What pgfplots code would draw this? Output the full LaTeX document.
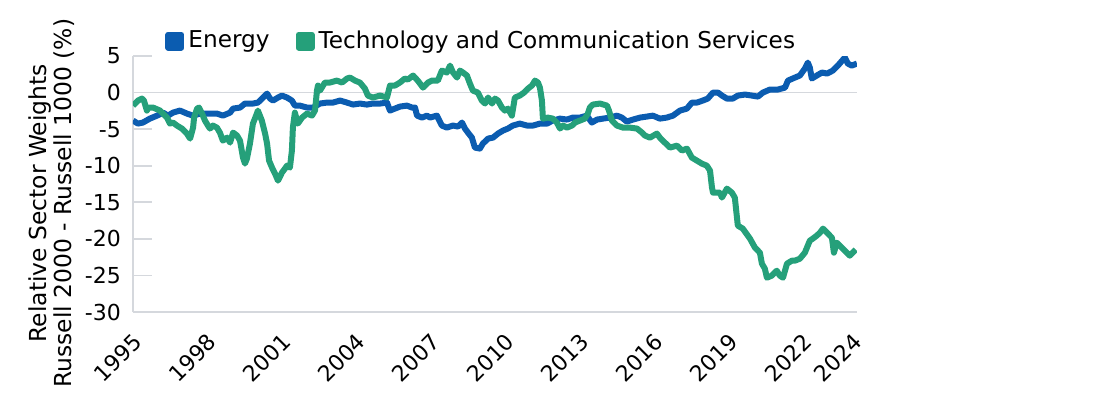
\documentclass[border=0pt]{standalone}
\usepackage{fontspec}
\setmainfont{DejaVu Sans}
\usepackage{pgfplots}
\pgfplotsset{compat=1.18}
\definecolor{eblue}{HTML}{0B5CB0}
\definecolor{tgreen}{HTML}{25A07A}
\definecolor{axgray}{HTML}{D5D8DD}
\begin{document}
\begin{tikzpicture}
\path[use as bounding box] (0,0) rectangle (550pt,196pt);
\begin{axis}[
  at={(66.5pt,40pt)}, anchor=south west,
  scale only axis, width=362pt, height=128pt,
  xmin=1995, xmax=2024.16, ymin=-30, ymax=5,
  axis lines*=left,
  axis line style={draw=axgray, line width=0.8pt},
  xtick={1995,1998,2001,2004,2007,2010,2013,2016,2019,2022,2024},
  xticklabels={1995,1998,2001,2004,2007,2010,2013,2016,2019,2022,2024},
  ytick={-30,-25,-20,-15,-10,-5,0,5},
  yticklabels={-30,-25,-20,-15,-10,-5,0,5},
  tick label style={font=\fontsize{11}{11}\selectfont},
  xtick style={draw=none},
  ytick style={draw=axgray, line width=0.8pt},
  tick align=inside, major tick length=9.5pt,
  xticklabel style={inner sep=0pt, xshift=2.5pt, yshift=-13pt, rotate=45, anchor=east},
  yticklabel style={xshift=-2.5pt},
  extra y ticks={0}, extra y tick labels={},
  extra y tick style={grid=major, major grid style={draw=axgray, line width=0.8pt}, major tick length=0pt},
  ylabel={Relative Sector Weights\\Russell 2000 - Russell 1000 (\%)},
  ylabel style={align=center, at={(axis description cs:-0.112,0.425)}, anchor=center, font=\fontsize{11.7}{11.3}\selectfont},
  legend columns=2,
  legend style={at={(axis description cs:0.0442,1.0586)}, anchor=west, draw=none, fill=none, inner sep=0pt,
    font=\fontsize{11.6}{11.6}\selectfont, /tikz/every even column/.append style={column sep=11pt}},
  legend image code/.code={\fill[#1] (0pt,-3.25pt) rectangle (6.5pt,3.25pt);},
  every axis plot/.append style={line width=3pt, line join=round, no markers},
]
\addplot[color=eblue] coordinates {
(1995.00,-3.83) (1995.20,-4.24) (1995.40,-4.10) (1995.68,-3.56) (1995.97,-3.15) (1996.21,-2.74) (1996.41,-3.15) (1996.61,-2.74) (1996.89,-2.46) (1997.17,-2.87) (1997.42,-3.15) (1997.70,-2.87) (1997.98,-2.87) (1998.38,-2.87) (1998.62,-3.15) (1998.91,-2.74) (1999.03,-2.19) (1999.31,-2.05) (1999.51,-1.50) (1999.83,-1.50) (2000.03,-1.37) (2000.24,-0.68) (2000.40,-0.14) (2000.52,-0.82) (2000.64,-1.09) (2000.84,-0.68) (2001.00,-0.41) (2001.20,-0.68) (2001.40,-1.09) (2001.52,-1.78) (2001.72,-1.78) (2002.01,-2.05) (2002.25,-2.05) (2002.53,-1.50) (2002.81,-1.37) (2003.05,-1.37) (2003.34,-1.09) (2003.62,-1.37) (2003.86,-1.64) (2004.14,-1.50) (2004.42,-1.64) (2004.66,-1.50) (2004.95,-1.50) (2005.23,-1.37) (2005.35,-2.46) (2005.55,-2.19) (2005.75,-1.92) (2006.03,-1.78) (2006.24,-2.05) (2006.36,-2.05) (2006.44,-3.15) (2006.64,-3.42) (2006.84,-3.15) (2006.96,-3.42) (2007.24,-3.15) (2007.44,-4.51) (2007.64,-4.79) (2007.89,-4.51) (2008.09,-4.65) (2008.25,-4.10) (2008.37,-4.92) (2008.49,-5.47) (2008.65,-6.16) (2008.77,-7.52) (2008.97,-7.66) (2009.09,-6.98) (2009.30,-6.29) (2009.50,-6.16) (2009.70,-5.61) (2009.90,-5.20) (2010.10,-4.92) (2010.30,-4.51) (2010.58,-4.24) (2010.87,-4.51) (2011.11,-4.51) (2011.39,-4.24) (2011.67,-4.24) (2011.91,-3.83) (2012.20,-3.56) (2012.48,-3.69) (2012.72,-3.42) (2013.00,-3.42) (2013.28,-3.15) (2013.48,-4.10) (2013.69,-3.69) (2013.93,-3.56) (2014.21,-3.42) (2014.49,-3.15) (2014.69,-3.42) (2014.89,-3.97) (2015.14,-3.69) (2015.42,-3.42) (2015.70,-3.28) (2015.94,-3.15) (2016.22,-3.56) (2016.50,-3.42) (2016.75,-3.15) (2017.03,-2.46) (2017.31,-2.19) (2017.51,-1.37) (2017.71,-1.37) (2017.95,-1.09) (2018.15,-0.82) (2018.36,0.00) (2018.56,0.00) (2018.72,-0.41) (2018.92,-0.82) (2019.16,-0.82) (2019.36,-0.41) (2019.65,-0.27) (2019.93,-0.41) (2020.17,-0.55) (2020.37,0.00) (2020.65,0.41) (2020.97,0.41) (2021.26,0.68) (2021.38,1.64) (2021.66,2.05) (2021.86,2.33) (2022.06,3.28) (2022.18,4.10) (2022.26,3.42) (2022.34,1.92) (2022.54,2.33) (2022.75,2.74) (2022.95,2.60) (2023.19,3.01) (2023.39,3.69) (2023.67,4.79) (2023.79,3.97) (2023.95,3.69) (2024.16,3.97)
};
\addlegendentry{Energy}
\addplot[color=tgreen] coordinates {
(1995.00,-1.78) (1995.20,-1.09) (1995.36,-0.82) (1995.44,-1.09) (1995.56,-2.46) (1995.60,-2.05) (1995.81,-2.05) (1996.09,-2.46) (1996.37,-3.42) (1996.49,-4.24) (1996.61,-4.10) (1996.77,-4.51) (1996.97,-4.92) (1997.17,-5.61) (1997.30,-6.29) (1997.42,-4.79) (1997.46,-3.42) (1997.58,-2.19) (1997.66,-2.05) (1997.78,-2.87) (1997.90,-3.83) (1998.02,-4.51) (1998.10,-4.92) (1998.22,-4.51) (1998.38,-4.79) (1998.50,-5.47) (1998.62,-6.57) (1998.79,-6.16) (1998.91,-6.84) (1999.03,-5.47) (1999.19,-5.88) (1999.31,-6.57) (1999.43,-8.89) (1999.51,-9.71) (1999.59,-9.03) (1999.71,-6.98) (1999.83,-4.24) (1999.99,-2.87) (2000.03,-2.46) (2000.19,-3.83) (2000.32,-5.61) (2000.40,-6.98) (2000.48,-9.30) (2000.60,-10.26) (2000.72,-11.08) (2000.84,-12.04) (2001.00,-10.94) (2001.12,-10.40) (2001.20,-9.99) (2001.32,-10.26) (2001.40,-7.93) (2001.44,-4.79) (2001.52,-2.74) (2001.64,-4.24) (2001.81,-3.42) (2002.01,-2.87) (2002.21,-3.15) (2002.33,-2.46) (2002.41,0.27) (2002.45,0.96) (2002.53,0.27) (2002.73,1.37) (2002.93,1.37) (2003.21,1.64) (2003.42,1.37) (2003.62,1.92) (2003.74,2.05) (2003.94,1.64) (2004.14,1.37) (2004.34,0.55) (2004.46,-0.41) (2004.66,-0.68) (2004.95,-0.41) (2005.23,-0.68) (2005.35,0.96) (2005.55,0.96) (2005.75,1.37) (2005.95,1.92) (2006.07,1.78) (2006.28,2.33) (2006.48,1.60) (2006.68,0.68) (2006.88,1.37) (2007.04,1.64) (2007.28,1.64) (2007.44,3.01) (2007.64,2.74) (2007.77,3.69) (2007.89,2.74) (2008.05,2.05) (2008.17,3.01) (2008.29,2.74) (2008.45,2.33) (2008.57,1.23) (2008.69,0.27) (2008.89,0.00) (2009.05,-1.09) (2009.18,-1.50) (2009.30,-0.68) (2009.46,-1.50) (2009.58,-0.82) (2009.70,-1.09) (2009.86,-2.05) (2009.98,-2.46) (2010.10,-2.19) (2010.26,-3.15) (2010.38,-0.68) (2010.58,-0.41) (2010.75,0.00) (2010.91,0.55) (2011.07,0.96) (2011.19,1.64) (2011.31,1.37) (2011.39,0.68) (2011.47,-1.09) (2011.51,-3.56) (2011.71,-3.42) (2011.91,-3.56) (2012.07,-4.10) (2012.20,-4.92) (2012.32,-4.51) (2012.48,-4.79) (2012.68,-4.51) (2012.80,-4.10) (2013.00,-3.83) (2013.20,-3.56) (2013.32,-2.87) (2013.40,-2.05) (2013.52,-1.64) (2013.81,-1.50) (2014.09,-1.78) (2014.17,-2.46) (2014.29,-3.83) (2014.49,-4.51) (2014.73,-4.79) (2015.01,-4.79) (2015.30,-4.92) (2015.50,-5.47) (2015.62,-5.88) (2015.82,-6.16) (2016.10,-5.61) (2016.22,-6.16) (2016.42,-6.84) (2016.63,-7.52) (2016.91,-7.25) (2017.11,-7.93) (2017.31,-7.66) (2017.51,-8.89) (2017.71,-9.30) (2017.91,-9.71) (2018.11,-9.99) (2018.24,-10.67) (2018.32,-13.00) (2018.36,-13.68) (2018.64,-13.68) (2018.72,-14.36) (2018.92,-13.13) (2019.12,-13.68) (2019.24,-14.36) (2019.36,-18.19) (2019.56,-18.60) (2019.85,-19.97) (2020.05,-21.20) (2020.25,-21.89) (2020.33,-23.39) (2020.45,-24.08) (2020.53,-25.31) (2020.73,-25.03) (2020.93,-24.35) (2021.05,-25.03) (2021.18,-25.31) (2021.34,-23.39) (2021.54,-22.98) (2021.66,-22.98) (2021.86,-22.71) (2022.06,-21.89) (2022.26,-20.25) (2022.38,-19.97) (2022.54,-19.56) (2022.67,-19.15) (2022.79,-18.60) (2022.99,-19.29) (2023.15,-19.84) (2023.23,-21.89) (2023.35,-20.52) (2023.47,-20.93) (2023.67,-21.61) (2023.87,-22.30) (2023.99,-21.89) (2024.11,-21.48)
};
\addlegendentry{Technology and Communication Services}
\end{axis}
\end{tikzpicture}
\end{document}
